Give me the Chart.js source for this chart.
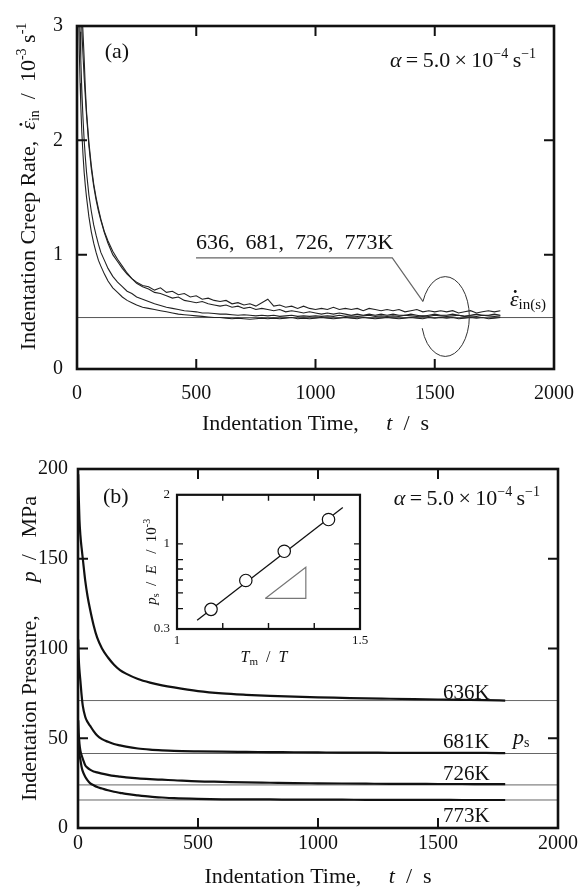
<!DOCTYPE html>
<html>
<head>
<meta charset="utf-8">
<script src="https://cdn.jsdelivr.net/npm/chart.js@4.4.0/dist/chart.umd.min.js"></script>
<style>
  html, body { margin: 0; padding: 0; background: #fff; }
  #wrap { position: relative; width: 587px; height: 891px; overflow: hidden; background: #fff; }
  canvas { position: absolute; }
</style>
</head>
<body>
<div id="wrap">
  <canvas id="chartA" width="587" height="450" style="left:0;top:0"></canvas>
  <canvas id="chartB" width="587" height="451" style="left:0;top:440px"></canvas>
  <canvas id="inset" width="260" height="190" style="left:120px;top:480px"></canvas>
</div>
<script>
// ---- data ----
var temps = [636, 681, 726, 773];

// (a) indentation creep rate, 10^-3 s^-1
var tA = [2, 4, 6, 8, 10, 13, 16, 20, 25, 30,
          35, 40, 50, 60, 70, 80, 90, 100, 115, 130,
          150, 170, 190, 210, 230, 250, 275,
          300, 325, 350, 375, 400, 425, 450, 475, 500, 525,
          550, 575, 600, 625, 650, 675, 700, 725, 750, 775,
          800, 825, 850, 875, 900, 925, 950, 975, 1000, 1025,
          1050, 1075, 1100, 1125, 1150, 1175, 1200, 1225, 1250, 1275,
          1300, 1325, 1350, 1375, 1400, 1425, 1450, 1475, 1500, 1525,
          1550, 1575, 1600, 1625, 1650, 1675, 1700, 1725, 1750, 1775];
var rate1 = [8.0, 6.5, 5.5, 4.8, 4.3, 3.8, 3.45, 3.15, 2.95, 2.72,
             2.45, 2.25, 1.98, 1.78, 1.62, 1.5, 1.4, 1.31, 1.2, 1.12,
             1.03, 0.96, 0.9, 0.84, 0.79, 0.76, 0.73,
             0.72, 0.69, 0.71, 0.67, 0.68, 0.65, 0.66, 0.63, 0.64, 0.61,
             0.62, 0.60, 0.59, 0.60, 0.57, 0.58, 0.56, 0.57, 0.55, 0.58,
             0.61, 0.55, 0.56, 0.54, 0.55, 0.53, 0.55, 0.53, 0.52, 0.53,
             0.52, 0.54, 0.52, 0.53, 0.52, 0.53, 0.51, 0.53, 0.52, 0.51,
             0.52, 0.51, 0.52, 0.50, 0.51, 0.52, 0.50, 0.51, 0.50, 0.51,
             0.50, 0.51, 0.49, 0.50, 0.51, 0.49, 0.50, 0.51, 0.50, 0.51];
var rate2 = [7.0, 5.8, 5.0, 4.4, 4.0, 3.55, 3.25, 2.98, 2.75, 2.55,
             2.38, 2.22, 1.95, 1.75, 1.6, 1.48, 1.38, 1.3, 1.19, 1.1,
             1.0, 0.94, 0.88, 0.83, 0.79, 0.75, 0.72,
             0.70, 0.67, 0.66, 0.64, 0.62, 0.63, 0.60, 0.59, 0.58, 0.59,
             0.57, 0.56, 0.55, 0.56, 0.54, 0.55, 0.53, 0.54, 0.52, 0.53,
             0.52, 0.51, 0.52, 0.50, 0.51, 0.50, 0.49, 0.50, 0.49, 0.48,
             0.49, 0.48, 0.49, 0.48, 0.47, 0.48, 0.47, 0.48, 0.47, 0.48,
             0.47, 0.48, 0.47, 0.47, 0.48, 0.47, 0.46, 0.47, 0.48, 0.47,
             0.47, 0.48, 0.47, 0.46, 0.47, 0.48, 0.47, 0.47, 0.48, 0.47];
var rate3 = [5.5, 4.6, 4.0, 3.6, 3.3, 2.95, 2.7, 2.45, 2.2, 2.0,
             1.85, 1.72, 1.52, 1.38, 1.26, 1.17, 1.09, 1.02, 0.95, 0.88,
             0.81, 0.76, 0.72, 0.68, 0.66, 0.63, 0.61,
             0.59, 0.57, 0.555, 0.54, 0.53, 0.52, 0.51, 0.505, 0.50, 0.49,
             0.49, 0.485, 0.48, 0.48, 0.475, 0.47, 0.475, 0.47, 0.465, 0.47,
             0.465, 0.47, 0.46, 0.465, 0.47, 0.46, 0.465, 0.46, 0.465, 0.46,
             0.465, 0.46, 0.47, 0.46, 0.465, 0.46, 0.465, 0.47, 0.46, 0.465,
             0.46, 0.465, 0.46, 0.47, 0.465, 0.46, 0.465, 0.46, 0.47, 0.465,
             0.46, 0.465, 0.47, 0.46, 0.465, 0.46, 0.47, 0.465, 0.46, 0.465];
var rate4 = [4.5, 3.8, 3.3, 3.0, 2.75, 2.5, 2.3, 2.08, 1.88, 1.72,
             1.6, 1.5, 1.33, 1.2, 1.1, 1.02, 0.95, 0.9, 0.83, 0.77,
             0.71, 0.67, 0.63, 0.6, 0.58, 0.56, 0.54,
             0.53, 0.52, 0.51, 0.50, 0.49, 0.48, 0.475, 0.47, 0.465, 0.46,
             0.455, 0.45, 0.45, 0.445, 0.44, 0.445, 0.44, 0.435, 0.44, 0.445,
             0.44, 0.445, 0.44, 0.445, 0.45, 0.44, 0.445, 0.44, 0.445, 0.45,
             0.445, 0.44, 0.445, 0.45, 0.445, 0.44, 0.45, 0.445, 0.44, 0.445,
             0.45, 0.445, 0.44, 0.445, 0.45, 0.445, 0.44, 0.45, 0.445, 0.45,
             0.445, 0.45, 0.44, 0.445, 0.45, 0.445, 0.45, 0.44, 0.445, 0.45];
var rateSteady = 0.45;

// (b) indentation pressure, MPa
var tB = [1, 3, 6, 10, 15, 20, 30, 40, 50, 65, 80, 100, 125, 150, 175, 200, 250,
          300, 350, 400, 500, 600, 700, 800, 900, 1000, 1100, 1200, 1300, 1400,
          1500, 1600, 1700, 1780];
var p636 = [197, 185, 172, 163, 156, 150, 138, 129, 122, 113, 106, 100, 95, 91, 88, 86, 83,
            81, 79.5, 78.3, 76.3, 75, 74.2, 73.6, 73.2, 72.8, 72.5, 72.2, 72, 71.8,
            71.6, 71.4, 71.2, 71];
var p681 = [105, 95, 88, 82, 74, 68, 62, 59, 57, 54, 51.5, 49.5, 48, 46.8, 46, 45.3, 44.3,
            43.7, 43.3, 43, 42.7, 42.5, 42.4, 42.3, 42.2, 42.1, 42, 42, 41.9, 41.9,
            41.8, 41.8, 41.8, 41.7];
var p726 = [60, 53, 47, 43, 40.5, 38.5, 35, 33.5, 32.5, 31.5, 31, 30.3, 29.6, 29, 28.6, 28.2, 27.6,
            27.2, 26.9, 26.6, 26, 25.7, 25.4, 25.2, 25, 24.9, 24.8, 24.7, 24.6, 24.6,
            24.5, 24.5, 24.4, 24.4];
var p773 = [48, 44, 41, 38, 34, 31.5, 28.5, 26.5, 25, 23.8, 22.8, 22, 21, 20.2, 19.6, 19, 18.2,
            17.5, 17, 16.6, 16.2, 16, 15.9, 15.9, 15.8, 15.8, 15.8, 15.7, 15.7, 15.7,
            15.7, 15.6, 15.6, 15.6];
var pSteady = [71, 41.5, 24, 15.6];

// inset: ps/E vs Tm/T
var tmOverT = [1.093, 1.188, 1.293, 1.414];
var psOverE = [0.396, 0.596, 0.90, 1.41];
var fitX = [1.055, 1.453];
var fitY = [0.339, 1.67];

// ticks
var insetXLabels = [1, 1.5];
var insetYLabels = [0.3, 1, 2];
var insetXMinor = [1.125, 1.25, 1.375];
var insetYMinor = [0.4, 0.5, 0.6, 0.7, 0.8, 1];

// ---- helpers ----
var SERIF = '"Liberation Serif", "Times New Roman", serif';
Chart.defaults.font.family = SERIF;
Chart.defaults.color = '#111';

function pts(xs, ys) {
  return xs.map(function (x, i) { return { x: x, y: ys[i] }; });
}

// parts: [text, size, italic, dy, dot]
function rich(ctx, x, y, parts, align, rot) {
  ctx.save();
  ctx.translate(x, y);
  if (rot) ctx.rotate(rot);
  ctx.fillStyle = '#111';
  ctx.textBaseline = 'alphabetic';
  ctx.textAlign = 'left';
  var fonts = parts.map(function (p) { return (p[2] ? 'italic ' : '') + p[1] + 'px ' + SERIF; });
  var ws = parts.map(function (p, i) { ctx.font = fonts[i]; return ctx.measureText(p[0]).width; });
  var w = 0;
  ws.forEach(function (v) { w += v; });
  var cx = align === 'center' ? -w / 2 : (align === 'right' ? -w : 0);
  parts.forEach(function (p, i) {
    ctx.font = fonts[i];
    ctx.fillText(p[0], cx, p[3] || 0);
    if (p[4]) {  // dot accent (time derivative)
      ctx.beginPath();
      ctx.arc(cx + ws[i] * 0.62, (p[3] || 0) - p[1] * 0.64, p[1] * 0.065, 0, Math.PI * 2);
      ctx.fill();
    }
    cx += ws[i];
  });
  ctx.restore();
}

// box round the plot area with inward ticks on all four sides
function framePlugin(xt, yt, len, lw, tw) {
  return {
    id: 'frame',
    afterDatasetsDraw: function (chart) {
      var ctx = chart.ctx, a = chart.chartArea, sx = chart.scales.x, sy = chart.scales.y;
      ctx.save();
      ctx.strokeStyle = '#111';
      ctx.lineWidth = tw;
      ctx.beginPath();
      xt.forEach(function (v) {
        var p = sx.getPixelForValue(v);
        ctx.moveTo(p, a.bottom); ctx.lineTo(p, a.bottom - len);
        ctx.moveTo(p, a.top); ctx.lineTo(p, a.top + len);
      });
      yt.forEach(function (v) {
        var p = sy.getPixelForValue(v);
        ctx.moveTo(a.left, p); ctx.lineTo(a.left + len, p);
        ctx.moveTo(a.right, p); ctx.lineTo(a.right - len, p);
      });
      ctx.stroke();
      ctx.lineWidth = lw;
      ctx.strokeRect(a.left, a.top, a.right - a.left, a.bottom - a.top);
      ctx.restore();
    }
  };
}

var noGrid = { display: false, drawTicks: false };

function axis(min, max, step, pad, size, fit) {
  return {
    type: 'linear', min: min, max: max,
    grid: noGrid, border: { display: false },
    ticks: { stepSize: step, padding: pad, font: { size: size }, color: '#111',
             maxRotation: 0, autoSkip: false,
             callback: function (v) { return String(v); } },
    afterFit: fit
  };
}

var alphaParts = [['α', 22, 1], ['\u2009=\u20095.0\u2009×\u200910', 22], ['−4', 14, 0, -9],
                  ['\u2009s', 22], ['−1', 14, 0, -9]];

// ---- (a) ----
var textA = {
  id: 'textA',
  afterDraw: function (c) {
    var ctx = c.ctx, a = c.chartArea, sx = c.scales.x, sy = c.scales.y;
    var X = function (v) { return sx.getPixelForValue(v); };
    var Y = function (v) { return sy.getPixelForValue(v); };
    rich(ctx, X(116), Y(2.72), [['(a)', 22]], 'left');
    rich(ctx, X(1925), Y(2.64), alphaParts, 'right');
    rich(ctx, X(499), Y(1.05), [[temps.join(',  ') + 'K', 22]], 'left');
    rich(ctx, X(1815), Y(0.555), [['ε', 22, 1, 0, 1], ['in(s)', 15, 0, 3]], 'left');
    // loop round the curve ends
    var cx = X(1544), cy = Y(0.459);
    ctx.save();
    ctx.strokeStyle = '#333';
    ctx.lineWidth = 1;
    ctx.beginPath();
    ctx.ellipse(cx, cy, X(1645) - cx, cy - Y(0.808), 0, 202.5 * Math.PI / 180, 163 * Math.PI / 180);
    ctx.stroke();
    ctx.restore();
    rich(ctx, (a.left + a.right) / 2, a.bottom + 61,
         [['Indentation Time,     ', 22], ['t', 22, 1], ['  /  s', 22]], 'center');
    rich(ctx, 35, (a.top + a.bottom) / 2 - 11,
         [['Indentation Creep Rate,  ', 22], ['ε', 22, 1, 0, 1], ['in', 14, 0, 4],
          ['  /  10', 22], ['-3', 14, 0, -9], [' s', 22], ['-1', 14, 0, -9]], 'center', -Math.PI / 2);
  }
};

var rateSets = [rate1, rate2, rate3, rate4].map(function (r) {
  return { data: pts(tA, r), borderColor: '#222', borderWidth: 1.1, pointRadius: 0, tension: 0 };
});
rateSets.push({ data: pts([0, 2000], [rateSteady, rateSteady]), borderColor: '#555',
                borderWidth: 1, pointRadius: 0 });
rateSets.push({ data: pts([499, 1322, 1451], [0.972, 0.972, 0.59]), borderColor: '#666',
                borderWidth: 1.2, pointRadius: 0, tension: 0 });

new Chart(document.getElementById('chartA'), {
  type: 'line',
  data: { datasets: rateSets },
  options: {
    responsive: false, animation: false, events: [],
    layout: { padding: { left: 0, right: 29, top: 14, bottom: 0 } },
    plugins: { legend: { display: false }, tooltip: { enabled: false } },
    scales: {
      x: axis(0, 2000, 500, 13, 20, function (s) { s.height = 81; }),
      y: axis(0, 3, 1, 14, 20, function (s) { s.width = 77; })
    }
  },
  plugins: [framePlugin([500, 1000, 1500], [1, 2], 10, 2.6, 2), textA]
});

// ---- (b) ----
var textB = {
  id: 'textB',
  afterDraw: function (c) {
    var ctx = c.ctx, a = c.chartArea, sx = c.scales.x, sy = c.scales.y;
    var X = function (v) { return sx.getPixelForValue(v); };
    var Y = function (v) { return sy.getPixelForValue(v); };
    rich(ctx, X(104), Y(181), [['(b)', 22]], 'left');
    rich(ctx, X(1925), Y(180), alphaParts, 'right');
    var labelY = [72, 44.6, 26.7, 3.6];
    temps.forEach(function (T, i) {
      rich(ctx, X(1521), Y(labelY[i]), [[T + 'K', 21]], 'left');
    });
    rich(ctx, X(1812), Y(46.8), [['p', 22, 1], ['s', 14, 0, 3]], 'left');
    rich(ctx, (a.left + a.right) / 2, a.bottom + 55,
         [['Indentation Time,     ', 22], ['t', 22, 1], ['  /  s', 22]], 'center');
    rich(ctx, 36, (a.top + a.bottom) / 2,
         [['Indentation Pressure,      ', 22], ['p', 22, 1], ['  /   MPa', 22]], 'center', -Math.PI / 2);
  }
};

var presSets = [p636, p681, p726, p773].map(function (p) {
  return { data: pts(tB, p), borderColor: '#111', borderWidth: 2.2, pointRadius: 0,
           cubicInterpolationMode: 'monotone' };
});
pSteady.forEach(function (v) {
  presSets.push({ data: pts([0, 2000], [v, v]), borderColor: '#666', borderWidth: 1, pointRadius: 0 });
});

new Chart(document.getElementById('chartB'), {
  type: 'line',
  data: { datasets: presSets },
  options: {
    responsive: false, animation: false, events: [],
    layout: { padding: { left: 0, right: 29, top: 29, bottom: 0 } },
    plugins: { legend: { display: false }, tooltip: { enabled: false } },
    scales: {
      x: axis(0, 2000, 500, 4, 20, function (s) { s.height = 63; }),
      y: axis(0, 200, 50, 10, 20, function (s) { s.width = 78; })
    }
  },
  plugins: [framePlugin([500, 1000, 1500], [50, 100, 150], 10, 2.6, 2), textB]
});

// ---- inset ----
var textI = {
  id: 'textI',
  afterDraw: function (c) {
    var ctx = c.ctx, a = c.chartArea;
    rich(ctx, a.left + 87, a.bottom + 33,
         [['T', 16, 1], ['m', 11, 0, 3], ['  /  ', 16], ['T', 16, 1]], 'center');
    rich(ctx, a.left - 21, a.top + 67,
         [['p', 15, 1], ['s', 10, 0, 3], ['  /  ', 15], ['E', 15, 1], ['   /  10', 15], ['-3', 10, 0, -6]],
         'center', -Math.PI / 2);
  }
};

new Chart(document.getElementById('inset'), {
  type: 'line',
  data: {
    datasets: [
      { data: pts(tmOverT, psOverE), showLine: false, pointRadius: 6.2,
        pointBackgroundColor: '#fff', pointBorderColor: '#111', pointBorderWidth: 1.2 },
      { data: pts(fitX, fitY), borderColor: '#111', borderWidth: 1.3, pointRadius: 0 },
      { data: pts([1.241, 1.352, 1.352, 1.241], [0.462, 0.718, 0.462, 0.462]),
        borderColor: '#777', borderWidth: 1.2, pointRadius: 0, tension: 0 }
    ]
  },
  options: {
    responsive: false, animation: false, events: [],
    layout: { padding: { left: 0, right: 20, top: 13, bottom: 0 } },
    plugins: { legend: { display: false }, tooltip: { enabled: false } },
    scales: {
      x: {
        type: 'linear', min: 1, max: 1.5,
        grid: noGrid, border: { display: false },
        afterBuildTicks: function (s) { s.ticks = insetXLabels.map(function (v) { return { value: v }; }); },
        ticks: { padding: 4, font: { size: 13 }, color: '#111', maxRotation: 0, autoSkip: false,
                 callback: function (v) { return String(v); } },
        afterFit: function (s) { s.height = 41; }
      },
      y: {
        type: 'logarithmic', min: 0.3, max: 2,
        grid: noGrid, border: { display: false },
        afterBuildTicks: function (s) { s.ticks = insetYLabels.map(function (v) { return { value: v }; }); },
        ticks: { padding: 7, font: { size: 13 }, color: '#111', autoSkip: false,
                 callback: function (v) { return String(v); } },
        afterFit: function (s) { s.width = 57; }
      }
    }
  },
  plugins: [framePlugin(insetXMinor, insetYMinor, 6, 2.2, 1.4), textI]
});
</script>
</body>
</html>
